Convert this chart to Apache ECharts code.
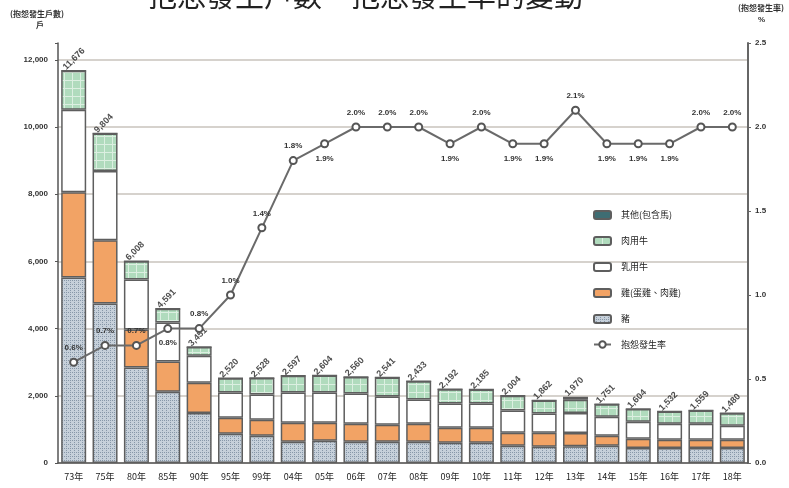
<!DOCTYPE html>
<html><head><meta charset="utf-8">
<script src="https://cdn.jsdelivr.net/npm/echarts@6/dist/echarts.min.js"></script>
<style>html,body{margin:0;padding:0;background:#fff}#c{width:789px;height:488px}</style>
</head><body><div id="c"></div>
<script>
const categories = ['73年','75年','80年','85年','90年','95年','99年','04年','05年','06年','07年','08年','09年','10年','11年','12年','13年','14年','15年','16年','17年','18年'];
const pig     = [5520,4750,2840,2120,1490,870,810,630,660,630,630,630,600,600,510,480,500,510,450,450,450,450];
const chicken = [2540,1880,1130,900,900,480,480,570,540,540,510,540,450,450,390,420,390,300,270,240,240,240];
const dairy   = [2450,2060,1490,1160,800,750,750,900,900,900,840,720,720,720,660,570,600,570,510,480,480,420];
const beef    = [1166,1114,548,411,261,420,488,497,504,490,561,543,422,415,444,392,390,371,374,362,389,370];
const other   = [0,0,0,0,0,0,0,0,0,0,0,0,0,0,0,0,90,0,0,0,0,0];
const totals  = [11676,9804,6008,4591,3451,2520,2528,2597,2604,2560,2541,2433,2192,2185,2004,1862,1970,1751,1604,1532,1559,1480];
const rate    = [0.6,0.7,0.7,0.8,0.8,1.0,1.4,1.8,1.9,2.0,2.0,2.0,1.9,2.0,1.9,1.9,2.1,1.9,1.9,1.9,2.0,2.0];
const rateBelow = ['85年','05年','09年','11年','12年','14年','15年','16年'];
const leftTickLabels = ['0','2,000','4,000','6,000','8,000','10,000','12,000'];
const rightTickLabels = ['0.0','0.5','1.0','1.5','2.0','2.5'];

function pattern(bg, fg, kind){
  const c = document.createElement('canvas');
  const s = kind === 'grid' ? 8 : 4;
  c.width = s; c.height = s;
  const g = c.getContext('2d');
  g.fillStyle = bg; g.fillRect(0,0,s,s);
  g.fillStyle = fg;
  if (kind === 'grid') { g.fillRect(0,0,s,1); g.fillRect(0,0,1,s); }
  else { g.fillRect(0,0,1,1); g.fillRect(2,2,1,1); g.fillRect(2,0,1,1); }
  return {image: c, repeat: 'repeat'};
}
const pigFill = pattern('#c6d0da', '#8797a8', 'dots');
const beefFill = pattern('#b0dbbd', '#dcefe1', 'grid');
const border = {borderColor:'#5e5e5e', borderWidth:1.5};

const chart = echarts.init(document.getElementById('c'));
const font = '"Liberation Sans", Arial, sans-serif';
const cjk = '"Noto Sans CJK TC", "Noto Sans CJK SC", sans-serif';
function barSeries(name, data, color){
  return {name, type:'bar', stack:'s', data, barWidth:25, yAxisIndex:0,
    itemStyle:Object.assign({color}, border), emphasis:{disabled:true}};
}
chart.setOption({
  animation:false,
  backgroundColor:'#fff',
  title:{text:'抱怨發生戶數　抱怨發生率的變動', left:143, top:-24,
    textStyle:{fontSize:29, fontWeight:'normal', color:'#222', fontFamily:cjk}},
  graphic:[
    {type:'text', left:10, top:10, style:{text:'(抱怨發生戶數)', font:'bold 8px '+cjk, fill:'#333'}},
    {type:'text', left:36, top:21, style:{text:'戶', font:'bold 8px '+cjk, fill:'#333'}},
    {type:'text', left:738, top:4, style:{text:'(抱怨發生率)', font:'bold 8px '+cjk, fill:'#333'}},
    {type:'text', left:758, top:16, style:{text:'%', font:'bold 8px '+font, fill:'#333'}}
  ],
  legend:{orient:'vertical', left:588, top:205, itemGap:16, itemWidth:17, itemHeight:8,
    data:['其他(包含馬)','肉用牛','乳用牛','雞(蛋雞、肉雞)','豬','抱怨發生率'],
    textStyle:{fontSize:9, color:'#222', fontFamily:cjk, padding:[0,0,0,5]}},
  grid:{left:58, right:41, top:43, bottom:25},
  xAxis:{type:'category', data:categories, boundaryGap:true,
    axisLine:{lineStyle:{color:'#555', width:1.5}}, axisTick:{show:false},
    axisLabel:{fontSize:9, color:'#222', margin:9, fontFamily:cjk}},
  yAxis:[
    {type:'value', min:0, max:12500, interval:2000,
     axisLine:{show:true, lineStyle:{color:'#555', width:1.5}},
     axisTick:{show:true, length:3, lineStyle:{color:'#555'}},
     axisLabel:{fontSize:8, fontWeight:'bold', color:'#333', margin:10, fontFamily:font,
       formatter:v => leftTickLabels[v/2000] || ''},
     splitLine:{show:true, lineStyle:{color:['#c9c3bd','#c9c3bd','#c9c3bd','#c9c3bd','#c9c3bd','#c9c3bd','#c9c3bd','rgba(0,0,0,0)'], width:1.5}}},
    {type:'value', min:0, max:2.5, interval:0.5, position:'right',
     axisLine:{show:true, lineStyle:{color:'#666', width:2}},
     axisTick:{show:true, length:3, lineStyle:{color:'#666'}},
     axisLabel:{fontSize:8, fontWeight:'bold', color:'#333', margin:7, fontFamily:font,
       formatter:v => rightTickLabels[Math.round(v/0.5)]},
     splitLine:{show:false}}
  ],
  series:[
    barSeries('豬', pig, pigFill),
    barSeries('雞(蛋雞、肉雞)', chicken, '#f2a365'),
    barSeries('乳用牛', dairy, '#ffffff'),
    barSeries('肉用牛', beef, beefFill),
    barSeries('其他(包含馬)', other, '#3e6d73'),
    {name:'總數', type:'scatter', yAxisIndex:0, symbolSize:0, data:totals, silent:true,
     label:{show:true, position:'top', distance:0, rotate:45, align:'left', verticalAlign:'middle',
       offset:[-5,-8], fontSize:9, fontWeight:'bold', color:'#222', fontFamily:font,
       formatter:p => totals[p.dataIndex].toLocaleString('en-US')}},
    {name:'抱怨發生率', type:'line', yAxisIndex:1, symbol:'emptyCircle', symbolSize:7,
     lineStyle:{color:'#6a6a6a', width:2}, itemStyle:{color:'#555', borderWidth:1.5},
     data: rate.map((v,i)=>({value:v, label:{position: rateBelow.includes(categories[i]) ? 'bottom' : 'top'}})),
     label:{show:true, fontSize:8, fontWeight:'bold', color:'#333', distance:6, fontFamily:font,
       formatter:p => p.value.toFixed(1)+'%'}}
  ]
});
</script></body></html>
